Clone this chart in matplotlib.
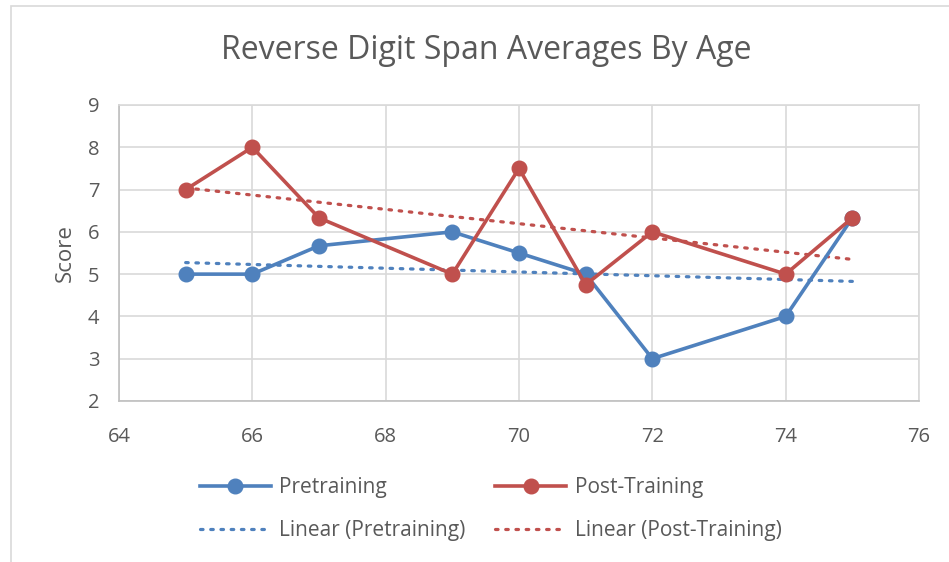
import matplotlib
matplotlib.use("Agg")
import matplotlib.pyplot as plt
import numpy as np

# ---- data: reverse digit span averages by age ----
ages = [65, 66, 67, 69, 70, 71, 72, 74, 75]
pretraining = [5, 5, 5.67, 6, 5.5, 5, 3, 4, 6.33]
post_training = [7, 8, 6.33, 5, 7.5, 4.75, 6, 5, 6.33]

BLUE = "#4F81BD"
RED = "#C0504D"
TXT = "#595959"

plt.rcParams["font.family"] = ["Open Sans", "DejaVu Sans"]

fig = plt.figure(figsize=(9.49, 5.62), dpi=100)
ax = fig.add_axes([0.1254, 0.2865, 0.843, 0.5267])

x = np.array(ages, dtype=float)
fits = {}
for name, y in [("Pretraining", pretraining), ("Post-Training", post_training)]:
    fits[name] = np.polyfit(x, np.array(y), 1)

xl = np.array([x.min(), x.max()])
h_lin_pre, = ax.plot(xl, np.polyval(fits["Pretraining"], xl), color=BLUE, lw=2.3,
                     ls=(0, (0.8, 2.4)), dash_capstyle="round", zorder=2,
                     label="Linear (Pretraining)")
h_lin_post, = ax.plot(xl, np.polyval(fits["Post-Training"], xl), color=RED, lw=2.3,
                      ls=(0, (0.8, 2.4)), dash_capstyle="round", zorder=2,
                      label="Linear (Post-Training)")
h_pre, = ax.plot(ages, pretraining, color=BLUE, lw=2.6, marker="o", ms=10.5,
                 zorder=3, label="Pretraining")
h_post, = ax.plot(ages, post_training, color=RED, lw=2.6, marker="o", ms=10.5,
                  zorder=4, label="Post-Training")

ax.set_xlim(64, 76)
ax.set_ylim(2, 9)
ax.set_xticks(range(64, 77, 2))
ax.set_yticks(range(2, 10))
ax.grid(True, color="#D9D9D9", lw=1.2)
ax.set_axisbelow(True)
ax.tick_params(length=0, labelsize=14.5, labelcolor=TXT)
ax.tick_params(axis="y", pad=14)
ax.tick_params(axis="x", pad=19)
for s in ax.spines.values():
    s.set_color("#D9D9D9")
    s.set_linewidth(1.2)
ax.spines["left"].set_color("#BFBFBF")
ax.spines["bottom"].set_color("#BFBFBF")

ax.set_ylabel("Score", fontsize=16, color=TXT)
ax.yaxis.set_label_coords(-0.0535, 0.5)
fig.text(0.512, 0.911, "Reverse Digit Span Averages By Age", ha="center", va="center",
         fontsize=23, color=TXT)

fig.legend(handles=[h_pre, h_lin_pre, h_post, h_lin_post], ncol=2, frameon=False,
           loc="center", bbox_to_anchor=(0.517, 0.094), fontsize=15, labelcolor=TXT,
           handlelength=3.4, columnspacing=1.45, labelspacing=1.05, handletextpad=0.4)

# light outer border of the chart area
fig.patches.append(plt.Rectangle((0.0116, -0.01), 1.0, 0.999, transform=fig.transFigure,
                                 fill=False, edgecolor="#D9D9D9", lw=1.2))

fig.savefig("out.png", dpi=100)
